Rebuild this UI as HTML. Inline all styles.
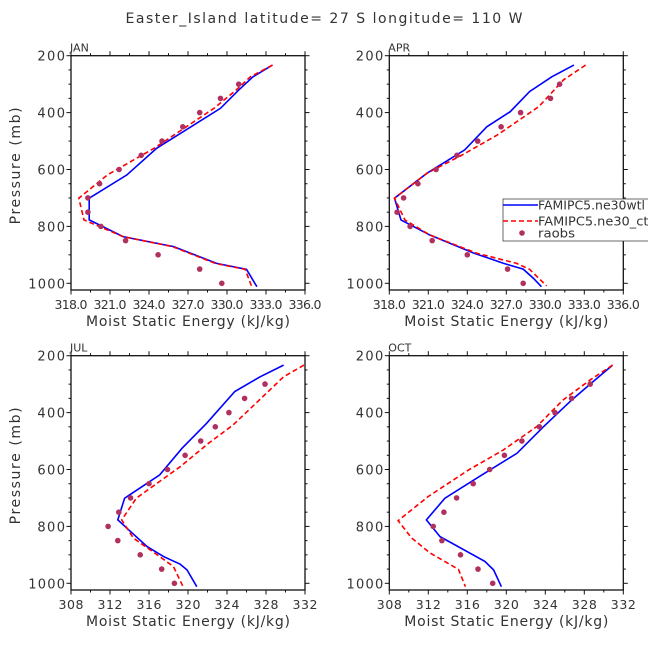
<!DOCTYPE html>
<html><head><meta charset="utf-8"><style>
body{margin:0;background:#fff}
svg{display:block;font-family:"DejaVu Sans","Liberation Sans",sans-serif}
</style></head><body>
<svg id="c" width="648" height="649" viewBox="0 0 648 649">
<text x="324" y="23" font-size="14" text-anchor="middle" fill="#333" textLength="397" lengthAdjust="spacing">Easter_Island  latitude= 27 S longitude= 110 W</text>
</svg>
<script>
// ---- data ----
const janBlueP=[233,274,321,385,525,619,701,777,836,871,930,951,1012];
const janBlueX=[333.5,332.0,330.9,329.5,324.6,322.3,319.4,319.4,322.0,325.9,329.2,331.5,332.3];
const janRedP=[233,274,321,385,525,619,701,777,836,871,930,951,1012];
const janRedX=[333.5,331.8,330.7,329.0,324.4,320.8,318.6,319.0,322.0,325.8,329.1,331.4,331.9];
const aprBlueP=[233,274,326,397,450,531,613,701,777,830,894,930,950,983,1012];
const aprBlueX=[332.2,330.5,328.8,327.3,325.5,323.8,320.9,318.4,318.9,321.1,324.5,326.8,328.3,329.1,329.7];
const aprRedP=[233,285,379,479,549,613,701,777,830,894,930,951,1009];
const aprRedX=[333.1,331.4,329.5,326.3,323.6,320.9,318.4,319.2,321.1,324.7,327.8,328.8,330.1];
const julBlueP=[233,274,326,438,525,619,701,777,871,906,933,953,1012];
const julBlueX=[329.8,327.4,324.8,321.9,319.4,317.1,313.5,312.8,315.8,317.5,319.2,319.9,320.9];
const julRedP=[233,274,366,444,508,590,701,777,841,906,941,1012];
const julRedX=[331.9,329.8,327.0,324.6,322.1,319.2,314.7,313.2,314.4,317.1,318.5,319.5];
const octBlueP=[233,291,356,450,543,619,701,777,836,923,953,1012];
const octBlueX=[330.9,328.9,326.7,323.8,321.1,317.5,313.7,311.8,313.2,317.8,318.7,319.5];
const octRedP=[233,285,356,450,531,602,695,780,841,894,951,1012];
const octRedX=[330.9,328.6,325.8,323.1,319.7,316.1,312.0,308.9,310.3,312.2,315.1,315.8];
const obsP=[300,350,400,450,500,550,600,650,700,750,800,850,900,950,1000];
const janObs=[330.9,329.5,327.9,326.6,325.0,323.4,321.7,320.2,319.3,319.3,320.3,322.2,324.7,327.9,329.6];
const aprObs=[331.1,330.4,328.1,326.6,324.8,323.2,321.6,320.2,319.1,318.6,319.6,321.3,324.0,327.1,328.3];
const julObs=[327.9,325.8,324.2,322.8,321.3,319.7,317.9,316.0,314.1,312.9,311.8,312.8,315.1,317.3,318.6];
const octObs=[328.6,326.7,325.0,323.4,321.6,319.8,318.3,316.6,314.9,313.6,312.5,313.4,315.3,317.1,318.6];
const yTicks=[200,400,600,800,1000];
const xTicksTop=[318,321,324,327,330,333,336];
const xTicksBot=[308,312,316,320,324,328,332];

const svg=document.getElementById('c');
const NS='http://www.w3.org/2000/svg';
function mk(t,a,p){const e=document.createElementNS(NS,t);for(const k in a)e.setAttribute(k,a[k]);(p||svg).appendChild(e);return e;}

const panels=[
 {name:'jan',lab:'JAN',L:71,T:55.7,xmin:318,xmax:336,ticks:xTicksTop,dec:1,minor:1.5,b:[janBlueP,janBlueX],r:[janRedP,janRedX],o:janObs,ytitle:true},
 {name:'apr',lab:'APR',L:389.3,T:55.7,xmin:318,xmax:336,ticks:xTicksTop,dec:1,minor:1.5,b:[aprBlueP,aprBlueX],r:[aprRedP,aprRedX],o:aprObs,ytitle:false,legend:true},
 {name:'jul',lab:'JUL',L:71,T:355.7,xmin:308,xmax:332,ticks:xTicksBot,dec:0,minor:2,b:[julBlueP,julBlueX],r:[julRedP,julRedX],o:julObs,ytitle:true},
 {name:'oct',lab:'OCT',L:389.3,T:355.7,xmin:308,xmax:332,ticks:xTicksBot,dec:0,minor:2,b:[octBlueP,octBlueX],r:[octRedP,octRedX],o:octObs,ytitle:false}
];
const W=234,H=234.3,PMIN=200,PMAX=1023.5,YSC=227.6/800;

panels.forEach(P=>{
 const g=mk('g',{});
 
 
 const X=v=>P.L+(v-P.xmin)/(P.xmax-P.xmin)*W;
 const Y=p=>P.T+(p-PMIN)*YSC;
 const B=P.T+H, R=P.L+W;
 function line(px,xs,col,dash,nm){
  const d=xs.map((v,i)=>(i?'L':'M')+X(v).toFixed(1)+' '+Y(px[i]).toFixed(1)).join(' ');
  const e=mk('path',{d:d,fill:'none',stroke:col,'stroke-width':1.6},g);
  if(dash)e.setAttribute('stroke-dasharray',dash);
  
  
 }
 line(P.b[0],P.b[1],'#0000ff',null,P.name+'-wtl-line');
 line(P.r[0],P.r[1],'#ff0000','5,3',P.name+'-ctl-line');
 P.o.forEach((v,i)=>{
  const c=mk('circle',{cx:X(v).toFixed(1),cy:Y(obsP[i]).toFixed(1),r:2.8,fill:'#b03060'},g);
  
  
 });
 if(P.legend){
  const lg=mk('g',{},svg);
  
  
  mk('rect',{x:503,y:199,width:160,height:42,fill:'#fff',stroke:'#444','stroke-width':0.8},lg);
  const items=[['FAMIPC5.ne30wtl','#0000ff',null,205,107],['FAMIPC5.ne30_ctl','#ff0000','5,3',221,114]];
  items.forEach(it=>{
   const e=mk('g',{},lg);
   
   
   const l=mk('line',{x1:503,y1:it[3],x2:538,y2:it[3],stroke:it[1],'stroke-width':1.4},e);
   if(it[2])l.setAttribute('stroke-dasharray',it[2]);
   const t=mk('text',{x:538,y:it[3]+4.5,'font-size':12,fill:'#333',textLength:it[4],lengthAdjust:'spacingAndGlyphs'},e);t.textContent=it[0];
  });
  const e=mk('g',{},lg);
  
  
  mk('circle',{cx:522,cy:233,r:2.8,fill:'#b03060'},e);
  const t=mk('text',{x:538,y:237.5,'font-size':12,fill:'#333',textLength:37,lengthAdjust:'spacingAndGlyphs'},e);t.textContent='raobs';
 }
 mk('rect',{x:P.L,y:P.T,width:W,height:H,fill:'none',stroke:'#111','stroke-width':1.3},g);
 for(let p=200;p<=1000;p+=50){
  const major=p%200===0, len=major?4.5:2.5, y=Y(p);
  mk('line',{x1:P.L-len,y1:y,x2:P.L,y2:y,stroke:'#111','stroke-width':1},g);
  mk('line',{x1:R,y1:y,x2:R+len,y2:y,stroke:'#111','stroke-width':1},g);
 }
 yTicks.forEach(p=>{
  const s=String(p);
  const t=mk('text',{x:P.L-6,y:Y(p)+5,'font-size':13,'text-anchor':'end',fill:'#333',textLength:s.length*9.2,lengthAdjust:'spacing'},g);
  t.textContent=s;
  
  
 });
 for(let v=P.xmin;v<=P.xmax+1e-6;v+=P.minor){
  const major=P.ticks.some(t=>Math.abs(t-v)<1e-6), len=major?4.5:2.5, x=X(v);
  mk('line',{x1:x,y1:B,x2:x,y2:B+len,stroke:'#111','stroke-width':1},g);
  mk('line',{x1:x,y1:P.T-len,x2:x,y2:P.T,stroke:'#111','stroke-width':1},g);
 }
 P.ticks.forEach(v=>{
  const s=v.toFixed(P.dec);
  const t=mk('text',{x:X(v),y:B+19,'font-size':12.5,'text-anchor':'middle',fill:'#333',textLength:P.dec?33:25,lengthAdjust:'spacing'},g);
  t.textContent=s;
  
  
 });
 const xt=mk('text',{x:P.L+W/2,y:B+36,'font-size':14,'text-anchor':'middle',fill:'#333',textLength:204,lengthAdjust:'spacing'},g);
 xt.textContent='Moist Static Energy (kJ/kg)';
 
 
 const ml=mk('text',{x:P.L-1,y:P.T-4,'font-size':11,fill:'#333'},g);
 ml.textContent=P.lab;
 
 
 if(P.ytitle){
  const cy=P.T+H/2-7;
  const yt=mk('text',{x:20,y:cy,'font-size':14,'text-anchor':'middle',fill:'#333',textLength:117,lengthAdjust:'spacing',transform:'rotate(-90 20 '+cy+')'},g);
  yt.textContent='Pressure (mb)';
  
  
 }
});
</script>
</body></html>
